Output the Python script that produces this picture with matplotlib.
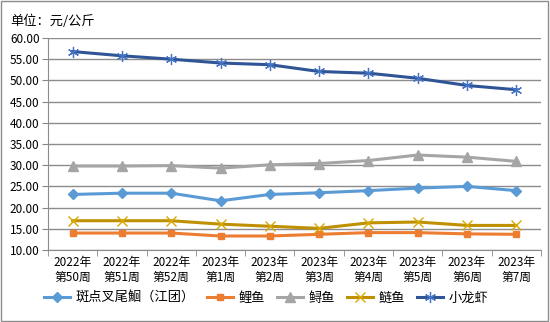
import numpy as np
import matplotlib.pyplot as plt
from matplotlib.patches import Rectangle

plt.rcParams['font.family'] = ['Noto Sans CJK SC', 'DejaVu Sans']

weeks = ["2022年\n第50周", "2022年\n第51周", "2022年\n第52周", "2023年\n第1周", "2023年\n第2周",
         "2023年\n第3周", "2023年\n第4周", "2023年\n第5周", "2023年\n第6周", "2023年\n第7周"]

catfish = [23.1, 23.4, 23.4, 21.6, 23.1, 23.5, 24.0, 24.6, 25.0, 24.0]
carp = [14.0, 14.0, 14.0, 13.3, 13.3, 13.7, 14.1, 14.1, 13.8, 13.7]
sturgeon = [29.8, 29.8, 29.9, 29.3, 30.1, 30.4, 31.1, 32.4, 31.9, 30.9]
silver_carp = [16.9, 16.9, 16.9, 16.1, 15.6, 15.1, 16.4, 16.6, 15.8, 15.8]
crayfish = [56.8, 55.8, 55.0, 54.1, 53.7, 52.1, 51.7, 50.5, 48.8, 47.8]

names = ["斑点叉尾鮰（江团）", "鲤鱼", "鲟鱼", "鲢鱼", "小龙虾"]

fig = plt.figure(figsize=(5.5, 3.22), dpi=100)
ax = fig.add_axes([0.0873, 0.2236, 0.8963, 0.6584])

x = np.arange(len(weeks))
ax.plot(x, catfish, color='#5B9BD5', lw=2.2, marker='D', ms=5.5, label=names[0])
ax.plot(x, carp, color='#ED7D31', lw=2.2, marker='s', ms=5, label=names[1])
ax.plot(x, sturgeon, color='#A5A5A5', lw=2.2, marker='^', ms=6.5, label=names[2])
ax.plot(x, silver_carp, color='#BF9000', lw=2.2, marker='x', ms=7.5, mew=1.0,
        mec='#D9A800', label=names[3])
ax.plot(x, crayfish, color='#2F5597', lw=2.2, marker=(6, 2, 0), ms=8, mew=0.9,
        mec='#4472C4', label=names[4])

ax.set_xlim(-0.5, len(weeks) - 0.5)
ax.set_ylim(10, 60)
ax.set_yticks(np.arange(10, 61, 5))
ax.set_yticklabels([f"{v:.2f}" for v in np.arange(10, 61, 5)], fontsize=8.5)
ax.set_xticks(x)
ax.set_xticklabels(weeks, fontsize=8.5, linespacing=1.25)
ax.set_xticks(np.arange(-0.5, len(weeks)), minor=True)
ax.tick_params(axis='x', which='major', length=0, pad=4)
ax.tick_params(axis='x', which='minor', length=4, color='#888888')
ax.tick_params(axis='y', length=4, color='#888888', pad=2)
ax.yaxis.grid(True, color='#8c8c8c', lw=1)
ax.set_axisbelow(True)
for s in ['top', 'right']:
    ax.spines[s].set_visible(False)
for s in ['left', 'bottom']:
    ax.spines[s].set_color('#8c8c8c')

fig.text(0.018, 0.955, "单位：元/公斤", fontsize=9.5, va='top')

ax.legend(loc='center', bbox_to_anchor=(0.442, -0.228), ncol=5, frameon=False,
          fontsize=9.5, handlelength=2.0, columnspacing=0.9, handletextpad=0.4)

fig.patches.append(Rectangle((0.002, 0.003), 0.995, 0.993, transform=fig.transFigure,
                             fill=False, edgecolor='#8c8c8c', lw=1))

fig.savefig("out.png", dpi=100)
